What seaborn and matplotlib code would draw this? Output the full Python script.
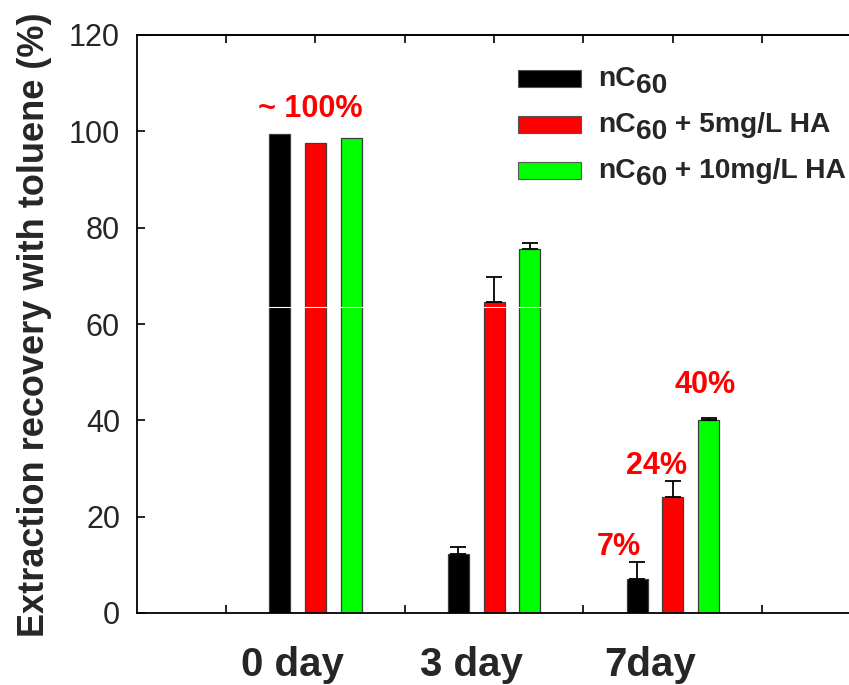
import numpy as np
import pandas as pd
import matplotlib
matplotlib.use("Agg")
import matplotlib.pyplot as plt
import matplotlib.transforms as mtransforms
from matplotlib.patches import Rectangle
import seaborn as sns

# ---- data -------------------------------------------------------------
days = ["0 day", "3 day", "7day"]
groups = ["nC60", "nC60 + 5mg/L HA", "nC60 + 10mg/L HA"]
nc60 = [99.4, 12.3, 7]
nc60_ha5 = [97.6, 64.5, 24]
nc60_ha10 = [98.7, 75.6, 40]
nc60_err = [0, 1.3, 3.6]
nc60_ha5_err = [0, 5.2, 3.4]
nc60_ha10_err = [0, 1.2, 0.5]
yticks = [0, 20, 40, 60, 80, 100, 120]

colors = ["#000000", "#ff0000", "#00ff00"]

sns.set_theme(style="white")
plt.rcParams["font.family"] = ["Liberation Sans", "DejaVu Sans"]

values = [nc60, nc60_ha5, nc60_ha10]
errors = [nc60_err, nc60_ha5_err, nc60_ha10_err]
df = pd.DataFrame({
    "day": days * 3,
    "group": np.repeat(groups, len(days)),
    "value": np.concatenate(values),
})

W, H = 849, 685
fig = plt.figure(figsize=(W / 100, H / 100), dpi=100)
ax = fig.add_axes([136.7 / W, 72 / H, 714.8 / W, 578 / H])

sns.barplot(data=df, x="day", y="value", hue="group", order=days,
            hue_order=groups, palette=colors, saturation=1, width=0.6,
            gap=0.41, edgecolor="#3c3c3c", linewidth=0.9, errorbar=None,
            legend=False, ax=ax)

# upward-only error bars on the measured series
for cont, err in zip(ax.containers, errors):
    xs, ys, es = [], [], []
    for bar, e in zip(cont, err):
        if e > 0:
            xs.append(bar.get_x() + bar.get_width() / 2)
            ys.append(bar.get_height())
            es.append(e)
    ax.errorbar(xs, ys, yerr=[np.zeros(len(es)), es], fmt="none",
                ecolor="black", elinewidth=1.3, capsize=5.5,
                capthick=1.3, zorder=3)

# thin white rule running through the tall bars
ax.axhline(63.5, color="white", lw=0.8, zorder=2.5)

ax.set_xlim(-1, 3)
ax.set_ylim(0, 120)
ax.set_yticks(yticks)
ax.set_yticklabels([str(v) for v in yticks], fontsize=22)
ax.set_xlabel("")
ax.set_ylabel("Extraction recovery with toluene (%)", fontsize=26,
              fontweight="bold")
ax.yaxis.set_label_coords(-0.1185, 0.498)

ax.set_xticks(range(len(days)))
ax.set_xticklabels(days, fontsize=29, fontweight="bold")
ax.set_xticks([-0.5, 0.5, 1.5, 2.5], minor=True)
ax.tick_params(axis="x", which="major", length=0, pad=24)
ax.tick_params(axis="x", which="minor", direction="in", length=6,
               width=1.2, color="black", bottom=True)
ax.tick_params(axis="y", direction="in", length=6, width=1.2,
               color="black", left=True, pad=12)
shift = mtransforms.ScaledTranslation(-23 / 100, 0, fig.dpi_scale_trans)
for lab in ax.get_xticklabels():
    lab.set_transform(lab.get_transform() + shift)

top = ax.secondary_xaxis("top")
top.set_xticks(np.arange(-0.5, 2.6, 0.5))
top.tick_params(direction="in", length=6, width=1.2, color="black",
                labeltop=False)
top.spines["top"].set_linewidth(1.3)

for side in ["left", "bottom", "top"]:
    ax.spines[side].set_visible(True)
    ax.spines[side].set_color("black")
    ax.spines[side].set_linewidth(1.3)
ax.spines["right"].set_visible(False)

# value annotations
red = "#ff0000"
ax.text(-0.03, 103.0, "~ 100%", color=red, fontsize=22, fontweight="bold",
        ha="center", va="baseline")
label_x = [1.696, 1.909, 2.18]
label_y = [12.0, 28.9, 45.7]
for vals, lx, ly in zip(values, label_x, label_y):
    ax.text(lx, ly, f"{vals[2]:g}%", color=red, fontsize=22,
            fontweight="bold", ha="center", va="baseline")

# legend drawn in figure pixels
px = mtransforms.Affine2D().scale(1 / W, -1 / H).translate(0, 1) + fig.transFigure
rows = [78, 124, 170]
suffix = ["", " + 5mg/L HA", " + 10mg/L HA"]
fs = 20.3
for c, yc, suf in zip(colors, rows, suffix):
    fig.patches.append(Rectangle((518, yc - 8.5), 63, 17, transform=px,
                                 facecolor=c, edgecolor="#555555", lw=0.8))
    t1 = fig.text(598, yc + 8, "nC", transform=px, fontsize=fs,
                  fontweight="bold", va="baseline", ha="left")
    t2 = ax.annotate("60", xy=(1, 0), xycoords=t1, xytext=(0, -5),
                     textcoords="offset points", fontsize=fs,
                     fontweight="bold", va="bottom", ha="left",
                     annotation_clip=False)
    if suf:
        ax.annotate(suf, xy=(1, 0), xycoords=t2, xytext=(0, 5),
                    textcoords="offset points", fontsize=fs,
                    fontweight="bold", va="bottom", ha="left",
                    annotation_clip=False)

fig.savefig("out.png", dpi=100)
